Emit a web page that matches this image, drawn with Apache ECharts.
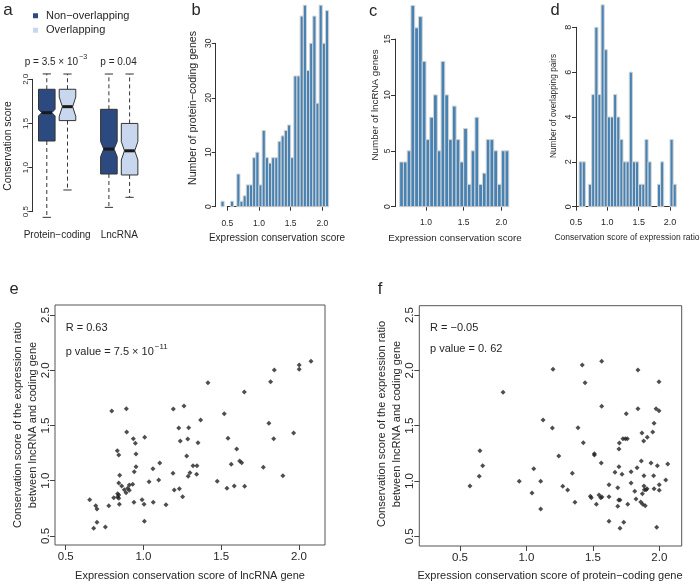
<!DOCTYPE html>
<html><head><meta charset="utf-8">
<script src="https://cdn.jsdelivr.net/npm/echarts@6/dist/echarts.min.js"></script>
<style>html,body{margin:0;padding:0;background:#fff}#c{width:700px;height:584px}</style>
</head><body><div id="c"></div><script>
const FONT = "'Liberation Sans', Arial, Helvetica, sans-serif";
const TXT = '#262626';
const AX = '#333';

// ---------- Panel a: box plot statistics [min, Q1, median, Q3, max, notchLow, notchHigh]
const boxGroups = ['Protein−coding', 'LncRNA'];
const boxPosNon = [1, 4];
const boxPosOver = [2, 5];
const boxNonOverlapping = [
  [0.436, 1.301, 1.622, 1.887, 2.061, 1.585, 1.660],
  [0.549, 0.927, 1.210, 1.660, 2.060, 1.124, 1.294]
];
const boxOverlapping = [
  [0.746, 1.532, 1.690, 1.887, 2.060, 1.580, 1.800],
  [0.663, 0.916, 1.190, 1.500, 2.060, 1.086, 1.294]
];
const pLabels = [['p = 3.5 × 10', '−3'], ['p = 0.04', '']];

// ---------- Panel b/c/d: histograms (bin width 0.05)
const binWidth = 0.05;
const pcFirstBin = 0.40;
const pcCounts = [1,0,0,1,0,6,1,2,4,4,9,10,4,14,9,8,9,9,12,13,14,15,9,24,24,35,37,25,30,35,19,37,30,36];
const lncFirstBin = 0.65;
const lncCounts = [4,4,5,18,16,17,13,6,8,10,5,13,10,6,9,6,4,7,2,5,8,2,3,6,6,5,2,5,5];
const pairFirstBin = 0.55;
const pairCounts = [2,2,0,1,5,8,5,9,7,4,4,5,4,3,2,2,6,2,2,1,1,3,2,0,0,1,2,0,0,3,1];

// ---------- Panel e: lncRNA score vs ratio score
const eX = [0.796,0.890,1.192,1.261,1.415,1.520,1.649,1.818,1.842,2.002,2.002,2.078,1.368,1.807,0.892,1.227,1.291,1.966,0.935,1.008,
  1.237,1.285,1.351,1.544,1.838,0.948,0.832,0.841,0.952,1.600,1.278,1.619,1.632,1.565,1.105,0.952,1.319,1.344,1.061,1.771,
  0.941,0.847,1.190,1.299,1.288,1.342,1.897,0.841,0.860,0.931,0.909,1.036,1.098,1.475,0.877,0.899,0.909,0.888,1.198,1.231,
  1.537,1.584,1.651,0.834,0.841,0.834,0.809,0.841,0.654,0.693,0.701,0.777,0.845,0.939,0.991,1.004,1.063,1.145,1.252,0.701,
  0.680,0.755,1.006];
const eY = [1.631,1.652,1.649,1.677,1.888,1.607,1.803,1.897,2.003,2.048,2.009,2.081,1.550,1.520,1.441,1.477,1.480,1.432,1.380,1.393,
  1.360,1.378,1.344,1.384,1.380,1.339,1.272,1.233,1.242,1.287,1.224,1.178,1.163,1.149,1.160,1.127,1.136,1.136,1.109,1.121,
  1.082,1.049,1.067,1.072,1.040,1.058,1.045,0.979,0.952,0.967,0.961,0.991,1.006,0.994,0.918,0.931,0.913,0.891,0.916,0.928,
  0.931,0.952,0.949,0.882,0.870,0.852,0.846,0.840,0.828,0.774,0.744,0.774,0.786,0.804,0.828,0.786,0.804,0.783,0.855,0.623,
  0.569,0.581,0.632];

// ---------- Panel f: protein-coding score vs ratio score
const fX = [0.824,1.200,1.420,1.566,1.839,1.441,1.997,1.566,1.839,1.751,1.975,1.997,1.125,1.195,1.388,1.960,1.869,1.950,1.909,1.882,
  1.428,1.699,1.726,1.744,1.759,1.696,0.650,1.243,1.511,1.511,1.563,0.671,1.055,1.696,1.832,1.864,1.937,1.985,2.063,1.345,
  1.666,1.719,1.787,1.884,1.957,0.645,0.575,0.946,1.107,1.042,1.107,1.273,1.310,1.365,1.481,1.488,1.546,1.559,1.568,1.526,
  1.621,1.621,1.687,1.694,1.704,1.687,1.762,1.787,1.815,1.824,1.860,1.875,1.894,1.872,1.884,1.887,1.900,1.907,1.960,1.999,
  1.999,2.048,1.621,1.732,1.704,1.980];
const fY = [1.802,2.010,2.049,2.082,2.004,1.889,1.898,1.675,1.654,1.609,1.654,1.636,1.552,1.479,1.482,1.522,1.434,1.443,1.395,1.362,
  1.346,1.344,1.382,1.382,1.382,1.289,1.274,1.226,1.247,1.235,1.163,1.138,1.111,1.129,1.120,1.181,1.163,1.138,1.154,1.070,
  1.079,1.060,1.084,1.048,1.048,1.042,0.955,0.997,0.997,0.892,0.747,0.952,0.919,0.807,0.862,0.849,0.873,0.849,0.855,0.789,
  0.967,0.858,0.940,0.828,0.828,0.771,0.789,0.982,0.907,0.837,0.810,0.789,0.777,0.885,0.955,0.921,0.921,0.930,0.930,0.967,
  0.916,1.009,0.636,0.627,0.572,0.581];

const scatterTicksX = [0.5, 1.0, 1.5, 2.0];
const scatterTicksY = [0.5, 1.0, 1.5, 2.0, 2.5];

// ================= build =================
function bins(first, counts) {
  return counts.map((c, i) => [first + i * binWidth, first + (i + 1) * binWidth, c]);
}
function histRender(params, api) {
  const c = api.value(2);
  if (!c) return null;
  const p0 = api.coord([api.value(0), 0]);
  const p1 = api.coord([api.value(1), c]);
  return { type: 'rect', shape: { x: p0[0], y: p1[1], width: p1[0] - p0[0], height: p0[1] - p1[1] },
    style: { fill: '#4682B4', stroke: '#D3D3D3', lineWidth: 1 } };
}
function boxRender(params, api) {
  const pos = api.value(0), lo = api.value(1), q1 = api.value(2), med = api.value(3),
        q3 = api.value(4), hi = api.value(5), nl = api.value(6), nh = api.value(7);
  const hw = 0.4, nw = 0.4 * 0.62, cw = 0.2;
  const P = (x, y) => api.coord([x, y]);
  const color = api.visual('color');
  const dash = { stroke: '#333', lineWidth: 1, lineDash: [4, 3] };
  const solid = { stroke: '#333', lineWidth: 1 };
  const ln = (a, b, st) => ({ type: 'line', shape: { x1: a[0], y1: a[1], x2: b[0], y2: b[1] }, style: st });
  const pts = [P(pos - hw, q1), P(pos - hw, nl), P(pos - nw, med), P(pos - hw, nh), P(pos - hw, q3),
               P(pos + hw, q3), P(pos + hw, nh), P(pos + nw, med), P(pos + hw, nl), P(pos + hw, q1)];
  return { type: 'group', children: [
    ln(P(pos, q3), P(pos, hi), dash),
    ln(P(pos, q1), P(pos, lo), dash),
    ln(P(pos - cw, hi), P(pos + cw, hi), solid),
    ln(P(pos - cw, lo), P(pos + cw, lo), solid),
    { type: 'polygon', shape: { points: pts }, style: { fill: color, stroke: '#333', lineWidth: 1 } },
    ln(P(pos - nw, med), P(pos + nw, med), { stroke: '#1a1a1a', lineWidth: 3 })
  ]};
}

const grids = [
  { left: 32.3, top: 79.3, width: 118, height: 132.4 },      // a
  { left: 227.3, top: 43.3, width: 95, height: 163.4 },      // b
  { left: 426, top: 39, width: 75.3, height: 167.7 },        // c
  { left: 576, top: 27.3, width: 94, height: 179.4 },        // d
  { left: 55, top: 305, width: 270, height: 240, show: true, borderColor: '#555', borderWidth: 1 },   // e
  { left: 419.3, top: 305.7, width: 262.4, height: 240.3, show: true, borderColor: '#555', borderWidth: 1 } // f
];

const fix1 = v => Number(v).toFixed(1);
function histX(gi, min, max, off, fs) {
  return { gridIndex: gi, type: 'value', min, max, interval: 0.5, offset: off,
    axisLine: { show: true, lineStyle: { color: AX, width: 1 } },
    axisTick: { show: true, length: 4, lineStyle: { color: AX } },
    axisLabel: { fontSize: fs, color: TXT, fontFamily: FONT, margin: 4, formatter: fix1 },
    splitLine: { show: false } };
}
function histY(gi, max, interval, off, fs) {
  return { gridIndex: gi, type: 'value', min: 0, max, interval, offset: off,
    axisLine: { show: true, lineStyle: { color: AX, width: 1 } },
    axisTick: { show: true, length: 4, lineStyle: { color: AX } },
    axisLabel: { fontSize: fs, color: TXT, fontFamily: FONT, margin: 3, rotate: 90 },
    splitLine: { show: false } };
}
function scatX(gi, min, max) {
  return { gridIndex: gi, type: 'value', min, max,
    axisLine: { show: false },
    axisTick: { show: true, length: 5, customValues: scatterTicksX, lineStyle: { color: '#444' } },
    axisLabel: { customValues: scatterTicksX, formatter: fix1, fontSize: 11.5, color: TXT, fontFamily: FONT, margin: 6 },
    splitLine: { show: false } };
}
function scatY(gi, min, max) {
  return { gridIndex: gi, type: 'value', min, max,
    axisLine: { show: false },
    axisTick: { show: true, length: 5, customValues: scatterTicksY, lineStyle: { color: '#444' } },
    axisLabel: { customValues: scatterTicksY, formatter: fix1, fontSize: 11.5, color: TXT, fontFamily: FONT, margin: 3, rotate: 90 },
    splitLine: { show: false } };
}

const xAxes = [
  { gridIndex: 0, type: 'value', min: 0.3, max: 6,
    axisLine: { show: false }, axisTick: { show: false }, splitLine: { show: false },
    axisLabel: { customValues: [1.5, 4.5], formatter: v => (v < 3 ? boxGroups[0] : boxGroups[1]),
      fontSize: 10, color: TXT, fontFamily: FONT, margin: 19 } },
  histX(1, 0.5, 2.0, 8.3, 8.5),
  histX(2, 1.0, 2.0, 7.6, 8.5),
  histX(3, 0.5, 2.0, 7.6, 9),
  scatX(4, 0.431, 2.168),
  scatX(5, 0.194, 2.168)
];
const yAxes = [
  { gridIndex: 0, type: 'value', min: 0.5, max: 2.0, interval: 0.5,
    axisLine: { show: true, lineStyle: { color: AX } },
    axisTick: { show: true, length: 4, lineStyle: { color: AX } },
    axisLabel: { fontSize: 8, color: TXT, fontFamily: FONT, margin: 3, rotate: 90, formatter: fix1 },
    splitLine: { show: false } },
  histY(1, 30, 10, 11.6, 8.5),
  histY(2, 15, 5, 31, 8.5),
  histY(3, 8, 2, 0, 9),
  scatY(4, 0.4176, 2.5915),
  scatY(5, 0.4123, 2.585)
];

const series = [
  { name: 'Non−overlapping', type: 'custom', xAxisIndex: 0, yAxisIndex: 0, clip: false, silent: true,
    itemStyle: { color: '#2d4a80' }, renderItem: boxRender, encode: { x: 0, y: [1, 2, 3, 4, 5] },
    data: boxNonOverlapping.map((s, i) => [boxPosNon[i]].concat(s)) },
  { name: 'Overlapping', type: 'custom', xAxisIndex: 0, yAxisIndex: 0, clip: false, silent: true,
    itemStyle: { color: '#c8d6ee' }, renderItem: boxRender, encode: { x: 0, y: [1, 2, 3, 4, 5] },
    data: boxOverlapping.map((s, i) => [boxPosOver[i]].concat(s)) },
  { type: 'custom', xAxisIndex: 1, yAxisIndex: 1, clip: false, silent: true, renderItem: histRender,
    encode: { x: [0, 1], y: 2 }, data: bins(pcFirstBin, pcCounts) },
  { type: 'custom', xAxisIndex: 2, yAxisIndex: 2, clip: false, silent: true, renderItem: histRender,
    encode: { x: [0, 1], y: 2 }, data: bins(lncFirstBin, lncCounts) },
  { type: 'custom', xAxisIndex: 3, yAxisIndex: 3, clip: false, silent: true, renderItem: histRender,
    encode: { x: [0, 1], y: 2 }, data: bins(pairFirstBin, pairCounts) },
  { type: 'scatter', xAxisIndex: 4, yAxisIndex: 4, symbol: 'diamond', symbolSize: 5, silent: true,
    itemStyle: { color: '#222' }, data: eX.map((x, i) => [x, eY[i]]) },
  { type: 'scatter', xAxisIndex: 5, yAxisIndex: 5, symbol: 'diamond', symbolSize: 5, silent: true,
    itemStyle: { color: '#222' }, data: fX.map((x, i) => [x, fY[i]]) }
];

function T(text, x, y, size, rot, extra) {
  const st = Object.assign({ text, fill: TXT, fontSize: size, fontFamily: FONT,
    align: 'center', verticalAlign: 'middle', textAlign: 'center', textVerticalAlign: 'middle' }, extra || {});
  return { type: 'text', x, y, rotation: rot ? Math.PI / 2 : 0, silent: true, style: st };
}
function supText(main, sup, x, y, size, align) {
  const s = sup ? '{n|' + main + '}{s|' + sup + '}' : '{n|' + main + '}';
  return { type: 'text', x, y, silent: true, style: {
    text: s, align, textAlign: align, verticalAlign: 'middle', textVerticalAlign: 'middle', fill: TXT,
    rich: { n: { fontSize: size, fontFamily: FONT, fill: TXT, color: TXT, lineHeight: size + 2, verticalAlign: 'bottom' },
            s: { fontSize: size * 0.72, fontFamily: FONT, fill: TXT, color: TXT, lineHeight: size * 0.8, padding: [0, 0, 6, 1], verticalAlign: 'bottom' } } } };
}

const graphics = [
  T('a', 8, 10, 17), T('b', 196, 10, 16.5), T('c', 373, 11, 16.5), T('d', 555, 10, 16.5),
  T('e', 14, 289, 16.5), T('f', 380, 289, 16.5),
  supText(pLabels[0][0], pLabels[0][1], 56, 61, 10, 'center'),
  supText(pLabels[1][0], pLabels[1][1], 118.5, 61, 10, 'center'),
  T('Conservation score', 8.3, 146, 10.4, true),
  T('Number of protein−coding genes', 193, 108, 10.6, true),
  T('Expression conservation score', 277, 238, 10),
  T('Number of lncRNA genes', 375, 105, 9.8, true),
  T('Expression conservation score', 455, 238, 9.8),
  T('Number of overlapping pairs', 553.3, 106, 8.3, true),
  T('Conservation score of expression ratio', 627, 238, 8.5),
  supText('R = 0.63', '', 65.7, 326.7, 11, 'left'),
  supText('p value = 7.5 × 10', '−11', 65.7, 350.5, 11, 'left'),
  T('Expression conservation score of lncRNA gene', 190, 576, 11),
  T('Conservation score of the expression ratio', 18.3, 425, 11, true),
  T('between lncRNA and coding gene', 33.3, 425, 11, true),
  supText('R = −0.05', '', 430, 326.7, 11, 'left'),
  supText('p value = 0. 62', '', 430, 348.3, 11, 'left'),
  T('Expression conservation score of protein−coding gene', 550, 576, 11),
  T('Conservation score of the expression ratio', 382.3, 424, 11, true),
  T('between lncRNA and coding gene', 396.7, 424, 11, true)
];

const chart = echarts.init(document.getElementById('c'), null, { renderer: 'canvas' });
chart.setOption({
  backgroundColor: '#fff',
  animation: false,
  textStyle: { fontFamily: FONT },
  legend: { orient: 'vertical', left: 33, top: 9.5, padding: 0, itemWidth: 5, itemHeight: 5, itemGap: 2,
    icon: 'rect', selectedMode: false, data: ['Non−overlapping', 'Overlapping'],
    textStyle: { fontSize: 11, color: TXT, fontFamily: FONT, lineHeight: 12.5, padding: [0, 0, 0, 3] } },
  grid: grids,
  xAxis: xAxes,
  yAxis: yAxes,
  series,
  graphic: graphics
});
</script></body></html>
